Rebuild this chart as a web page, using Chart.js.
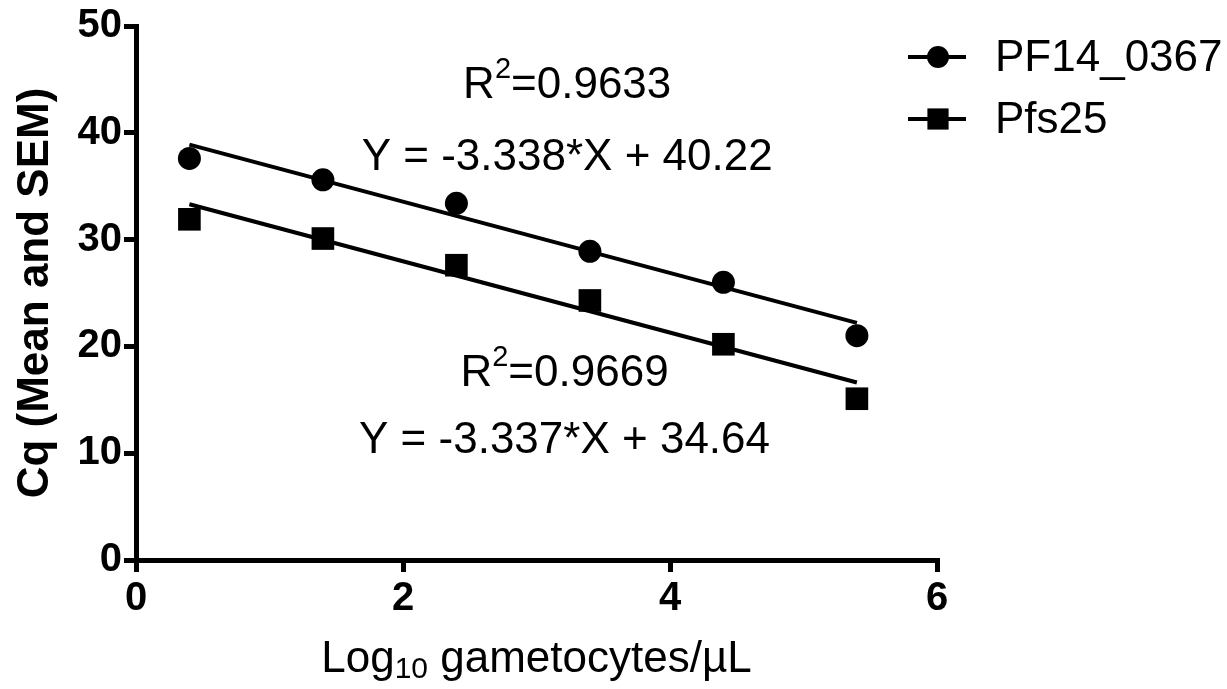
<!DOCTYPE html>
<html>
<head>
<meta charset="utf-8">
<script src="https://cdn.jsdelivr.net/npm/chart.js@4.4.0/dist/chart.umd.min.js"></script>
<style>
  html, body { margin: 0; padding: 0; background: #fff; }
  #wrap { width: 1227px; height: 689px; }
</style>
</head>
<body>
<div id="wrap"><canvas id="cqChart" width="1227" height="689"></canvas></div>
<script>
// data
const logGametocytes = [0.4, 1.4, 2.4, 3.4, 4.4, 5.4];
const pf14Cq  = [37.6, 35.6, 33.4, 28.9, 26.0, 21.0];
const pfs25Cq = [31.9, 30.1, 27.6, 24.3, 20.2, 15.1];

// regression lines (end points from the printed equations)
const fitX     = [0.4, 5.4];
const pf14Fit  = [38.89, 22.20];
const pfs25Fit = [33.31, 16.62];

const seriesNames = ["PF14_0367", "Pfs25"];
const yTicks = [0, 10, 20, 30, 40, 50];
const xTicks = [0, 2, 4, 6];

const FONT = "'Liberation Sans', Arial, sans-serif";

const pts = (xs, ys) => xs.map((x, i) => ({ x, y: ys[i] }));

// equation labels: [x, y, prefix, superscript, rest]
const notes = [
  [3.23, 44.4, "R", "2", "=0.9633"],
  [3.23, 37.7, "Y = -3.338*X + 40.22", "", ""],
  [3.21, 17.4, "R", "2", "=0.9669"],
  [3.21, 11.2, "Y = -3.337*X + 34.64", "", ""]
];

// text with a raised (dy < 0) or lowered (dy > 0) small part
function drawParts(ctx, parts, cx, cy) {
  const widths = parts.map(p => {
    ctx.font = p.size + "px " + FONT;
    return ctx.measureText(p.text).width;
  });
  let px = cx - widths.reduce((a, b) => a + b, 0) / 2;
  parts.forEach((p, i) => {
    ctx.font = p.size + "px " + FONT;
    ctx.fillText(p.text, px, cy + (p.dy || 0));
    px += widths[i];
  });
}

const notesPlugin = {
  id: "notes",
  afterDatasetsDraw(chart) {
    const { ctx, scales: { x, y }, chartArea } = chart;
    ctx.save();
    ctx.fillStyle = "#000";
    ctx.textBaseline = "middle";
    ctx.textAlign = "left";
    notes.forEach(([nx, ny, a, sup, b]) => {
      const parts = [{ text: a, size: 44 }];
      if (sup) parts.push({ text: sup, size: 29, dy: -16 });
      if (b) parts.push({ text: b, size: 44 });
      drawParts(ctx, parts, x.getPixelForValue(nx), y.getPixelForValue(ny));
    });
    // x axis title with subscript
    drawParts(ctx, [
      { text: "Log", size: 44 },
      { text: "10", size: 30, dy: 10 },
      { text: " gametocytes/\u00b5L", size: 44 }
    ], (chartArea.left + chartArea.right) / 2, 660);
    ctx.restore();
  }
};

// legend drawn at the top right, styled from the scatter datasets
const legendPlugin = {
  id: "sideLegend",
  afterDraw(chart) {
    const { ctx } = chart;
    ctx.save();
    [0, 1].forEach(i => {
      const ds = chart.data.datasets[i];
      const cy = 57 + i * 62;
      ctx.strokeStyle = "#000";
      ctx.lineWidth = 4;
      ctx.beginPath();
      ctx.moveTo(908, cy);
      ctx.lineTo(966, cy);
      ctx.stroke();
      ctx.fillStyle = "#000";
      Chart.helpers.drawPoint(ctx, {
        pointStyle: ds.pointStyle,
        radius: ds.pointStyle === "rect" ? 15 : 11,
        borderWidth: 0
      }, 938, cy);
      ctx.font = "44px " + FONT;
      ctx.textBaseline = "middle";
      ctx.textAlign = "left";
      ctx.fillText(seriesNames[i], 995, cy + 2);
    });
    ctx.restore();
  }
};

new Chart(document.getElementById("cqChart"), {
  type: "scatter",
  data: {
    datasets: [
      {
        label: seriesNames[0],
        data: pts(logGametocytes, pf14Cq),
        pointStyle: "circle",
        pointRadius: 11.5,
        backgroundColor: "#000",
        borderColor: "#000",
        borderWidth: 0,
        showLine: false
      },
      {
        label: seriesNames[1],
        data: pts(logGametocytes, pfs25Cq),
        pointStyle: "rect",
        pointRadius: 16,
        backgroundColor: "#000",
        borderColor: "#000",
        borderWidth: 0,
        showLine: false
      },
      {
        label: "fit1",
        data: pts(fitX, pf14Fit),
        showLine: true,
        pointRadius: 0,
        borderColor: "#000",
        borderWidth: 4
      },
      {
        label: "fit2",
        data: pts(fitX, pfs25Fit),
        showLine: true,
        pointRadius: 0,
        borderColor: "#000",
        borderWidth: 4
      }
    ]
  },
  options: {
    responsive: false,
    animation: false,
    layout: { padding: { left: 0, top: 25, right: 290, bottom: 0 } },
    plugins: {
      legend: { display: false },
      tooltip: { enabled: false }
    },
    scales: {
      x: {
        type: "linear",
        min: 0,
        max: 6,
        afterBuildTicks: s => { s.ticks = xTicks.map(v => ({ value: v })); },
        afterFit: s => { s.height = 129; },
        border: { display: true, color: "#000", width: 5 },
        grid: { drawOnChartArea: false, color: "#000", tickLength: 12, lineWidth: 5 },
        ticks: {
          color: "#000",
          padding: 3,
          font: { family: FONT, size: 40, weight: "bold" }
        },
        title: { display: false }
      },
      y: {
        type: "linear",
        min: 0,
        max: 50,
        afterBuildTicks: s => { s.ticks = yTicks.map(v => ({ value: v })); },
        afterFit: s => { s.width = 136; },
        border: { display: true, color: "#000", width: 5 },
        grid: { drawOnChartArea: false, color: "#000", tickLength: 12, lineWidth: 5 },
        ticks: {
          color: "#000",
          padding: 2,
          font: { family: FONT, size: 40, weight: "bold" }
        },
        title: {
          display: true,
          text: "Cq (Mean and SEM)",
          color: "#000",
          padding: { top: 9, bottom: 0 },
          font: { family: FONT, size: 44, weight: "bold" }
        }
      }
    }
  },
  plugins: [notesPlugin, legendPlugin]
});
</script>
</body>
</html>
